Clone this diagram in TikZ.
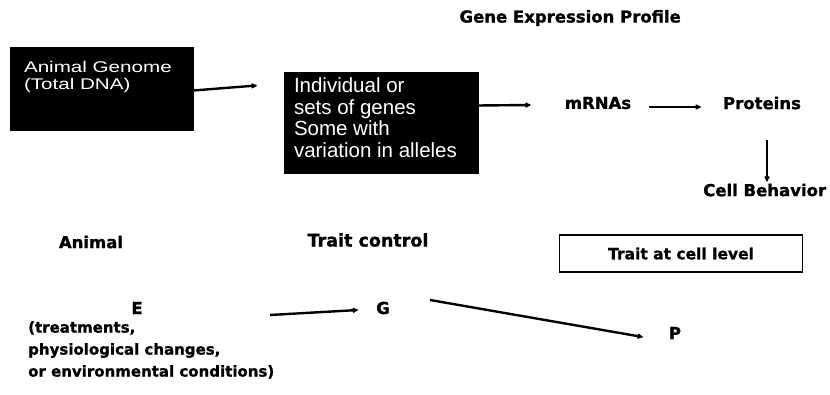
\documentclass[tikz,border=0pt]{standalone}
\usepackage{fontspec}
\setmainfont{DejaVu Sans}
\newfontfamily\heavy[FakeBold=1.2]{DejaVu Sans Bold}
\newfontfamily\boxfont{Liberation Sans}
\newfontfamily\wideboxfont[FakeStretch=1.33]{Liberation Sans}
\usetikzlibrary{arrows.meta,calc}
\begin{document}
\begin{tikzpicture}[x=1pt,y=-1pt,
  lbl/.style={font=\heavy\fontsize{16.5}{22}\selectfont, inner sep=0pt},
  blk/.style={fill=black, draw=black, inner sep=0pt},
  boxtxt/.style={text=white, align=left, inner sep=0pt, anchor=north west},
  conn/.style={line width=2.4pt, -{Latex[length=7pt,width=6.5pt,round]}}]
\useasboundingbox (0,0) rectangle (830,395);

% black boxes of the genome part
\node[blk, minimum width=183pt, minimum height=83pt] (genome) at (101.5,88.5) {};
\node[boxtxt, font=\wideboxfont\fontsize{15.5}{17}\selectfont] (genometxt) at ($(genome.north west)+(14,14)$)
  {Animal Genome\\(Total DNA)};

\node[blk, minimum width=194pt, minimum height=101pt] (genes) at (381,122.5) {};
\node[boxtxt, font=\boxfont\fontsize{20.5}{21.5}\selectfont] (genestxt) at ($(genes.north west)+(10,6)$)
  {Individual or\\sets of genes\\Some with\\variation in alleles};

% expression chain
\node[lbl, anchor=east] (profile) at (681,18) {Gene Expression Profile};
\node[lbl] (mrna) at (598,103) {mRNAs};
\node[lbl] (prot) at (762,103) {Proteins};
\node[lbl, anchor=west] (cellb) at (703,190) {Cell Behavior};

\draw[conn] ($(genome.east)+(0,2)$) -- ($(genes.west)+(-27,-37)$);
\draw[conn] ($(genes.east)+(0,-17)$) -- ($(mrna.west)+(-34,2)$);
\draw[conn] ($(mrna.east)+(18,4)$) -- ($(prot.west)+(-22,4)$);
\draw[conn] ($(prot.south)+(5,30)$) -- ($(prot.south)+(5,72)$);

% trait level labels
\node[lbl] (animal) at (91,242) {Animal};
\node[lbl, font=\heavy\fontsize{17.5}{22}\selectfont] (trait) at (368,240) {Trait control};
\node[draw, line width=1.3pt, minimum width=243pt, minimum height=37pt,
      font=\heavy\fontsize{15.5}{18}\selectfont] (cellbox) at (681,253.5) {Trait at cell level};

% E -> G -> P
\node[lbl] (E) at (137,308) {E};
\node[lbl, anchor=north west, align=left, font=\heavy\fontsize{15}{22}\selectfont] (envtxt) at (28,321)
  {(treatments,\\physiological changes,\\or environmental conditions)};
\node[lbl] (G) at (383,308) {G};
\node[lbl] (P) at (675,333) {P};

\draw[conn] ($(G.west)+(-106,7)$) -- ($(G.west)+(-18,2)$);
\draw[conn] ($(G.east)+(40,-8)$) -- ($(P.west)+(-26,4)$);
\end{tikzpicture}
\end{document}
